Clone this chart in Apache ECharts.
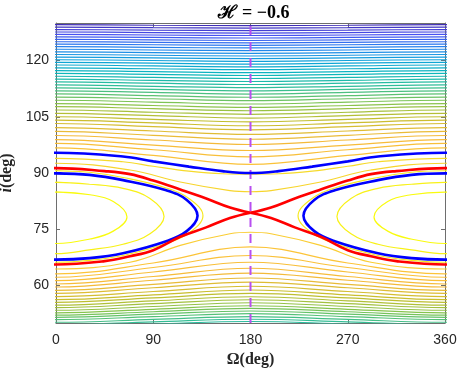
<!DOCTYPE html>
<html>
<head>
<meta charset="utf-8">
<script src="https://cdn.jsdelivr.net/npm/echarts@6/dist/echarts.min.js"></script>
<style>
  html, body { margin: 0; padding: 0; background: #fff; }
  #chart { width: 458px; height: 370px; }
</style>
</head>
<body>
<div id="chart"></div>
<script>
const omegaTicks = [0, 90, 180, 270, 360];
const incTicks = [60, 75, 90, 105, 120];
const hValue = "−0.6";

// open contours above the separatrix, inclination (deg) read at Ω = 0, 90, 180
const upperAt0 = [96.7, 97.9, 98.9, 100.0, 101.1, 102.1, 103.2, 104.1, 105.0, 105.9, 106.8, 107.7, 108.5, 109.4, 110.25, 111.1, 111.9, 112.7, 113.5, 114.3, 115.05, 115.8, 116.55, 117.3, 118.05, 118.8, 119.5, 120.2, 120.9, 121.6, 122.3, 123.0, 123.7, 124.35, 125.0, 125.65, 126.3, 126.95, 127.6, 128.25, 128.9, 129.55];
const upperAt90 = [94.7, 96.2, 97.45, 98.8, 100.05, 101.2, 102.35, 103.35, 104.3, 105.3, 106.2, 107.15, 108.0, 108.9, 109.8, 110.65, 111.5, 112.3, 113.1, 113.95, 114.7, 115.5, 116.3, 117.05, 117.8, 118.55, 119.3, 120.0, 120.7, 121.4, 122.1, 122.8, 123.5, 124.2, 124.85, 125.5, 126.15, 126.8, 127.45, 128.1, 128.75, 129.4];
const upperAt180 = [92.3, 94.3, 96.0, 97.6, 99.0, 100.3, 101.5, 102.6, 103.65, 104.65, 105.65, 106.6, 107.5, 108.4, 109.3, 110.2, 111.05, 111.9, 112.75, 113.6, 114.4, 115.2, 116.0, 116.78, 117.55, 118.32, 119.05, 119.78, 120.5, 121.2, 121.92, 122.64, 123.35, 124.02, 124.68, 125.34, 126.0, 126.66, 127.32, 127.98, 128.64, 129.3];

// open contours below the separatrix
const lowerAt0 = [63.1, 62.2, 61.3, 60.4, 59.6, 58.7, 57.9, 57.05, 56.25, 55.5, 54.75, 54.1, 53.4, 52.7, 52.1, 51.5, 50.9, 50.2, 49.55, 49.0];
const lowerAt90 = [66.0, 64.8, 63.6, 62.4, 61.4, 60.3, 59.4, 58.4, 57.5, 56.7, 55.9, 55.15, 54.4, 53.65, 53.0, 52.35, 51.7, 50.95, 50.3, 49.7];
const lowerAt180 = [70.3, 68.0, 66.2, 64.6, 63.3, 62.0, 60.9, 59.8, 58.8, 57.9, 57.0, 56.2, 55.4, 54.6, 53.9, 53.2, 52.5, 51.7, 51.0, 50.4];

// contours passing close to the saddle (left half, mirrored about 180)
const saddleOmega = [0, 68.5, 115, 161, 180];
const saddleUpper = [92.6, 90.8, 87.6, 85.3, 85.0];
const saddleLower = [64.4, 66.2, 70.7, 73.8, 74.2];
const hugOmega = [0, 62, 90, 123, 154, 180];
const hugInc = [93.9, 93.0, 91.8, 90.5, 89.8, 89.7];

// blue open curve
const blueOmega = [0, 62, 90, 123, 154, 180];
const blueInc = [95.4, 94.4, 93.1, 91.7, 90.5, 90.0];

// separatrix (red), left half
const sepOmega = [0, 45, 68.5, 90, 115, 139, 161, 180];
const sepUpper = [91.3, 90.5, 89.7, 88.0, 85.6, 83.2, 80.8, 79.4];
const sepLower = [65.6, 66.5, 67.8, 69.4, 73.0, 75.5, 78.0, 79.4];

// closed curves round the island at Ω = 0 (and 360): top at Ω=0 -> tip -> bottom at Ω=0
const innerOmega = [0, 31.5, 53, 65.7, 53, 31.5, 0];
const innerInc = [84.9, 84.2, 82.4, 78.3, 74.5, 72.4, 71.2];
const middleOmega = [0, 31, 62, 87, 100, 87, 62, 31, 0];
const middleInc = [87.5, 87.0, 85.9, 83.2, 78.4, 73.8, 71.0, 69.5, 68.5];
const outerOmega = [0, 31, 62, 102, 124, 136, 124, 102, 62, 31, 0];
const outerInc = [90.6, 90.2, 88.8, 86.0, 83.0, 78.6, 74.2, 71.2, 68.0, 66.7, 66.2];
const blueIslandOmega = [0, 31, 62, 102, 121, 131, 121, 102, 62, 31, 0];
const blueIslandInc = [89.9, 89.5, 88.1, 85.4, 82.8, 78.6, 74.5, 71.8, 68.6, 67.3, 66.9];

// parula-like colour ramp
const parulaStops = [
  [0, [62, 38, 168]], [0.1, [70, 80, 240]], [0.2, [40, 128, 238]], [0.3, [15, 160, 220]],
  [0.4, [10, 182, 190]], [0.5, [50, 190, 150]], [0.6, [130, 196, 80]], [0.7, [196, 190, 45]],
  [0.8, [245, 186, 58]], [0.88, [252, 196, 56]], [0.94, [245, 222, 40]], [1, [249, 251, 14]]
];
function parula(t) {
  t = Math.max(0, Math.min(1, t));
  for (let j = 1; j < parulaStops.length; j++) {
    const a = parulaStops[j - 1], b = parulaStops[j];
    if (t <= b[0]) {
      const f = (t - a[0]) / (b[0] - a[0]);
      const c = a[1].map((v, n) => Math.round(v + (b[1][n] - v) * f));
      return "rgb(" + c.join(",") + ")";
    }
  }
  return "rgb(249,251,14)";
}

function openLine(a0, a90, a180) {
  return [[-90, a90], [0, a0], [90, a90], [180, a180], [270, a90], [360, a0], [450, a90]];
}
function acrossSaddle(omegas, incs) {
  const pts = [[-omegas[1], incs[1]]];
  omegas.forEach((w, j) => pts.push([w, incs[j]]));
  for (let j = omegas.length - 2; j >= 0; j--) pts.push([360 - omegas[j], incs[j]]);
  pts.push([360 + omegas[1], incs[1]]);
  return pts;
}
function halfBranch(omegas, incs, right) {
  const pts = [[-omegas[1], incs[1]]].concat(omegas.map((w, j) => [w, incs[j]]));
  return right ? pts.map((p) => [360 - p[0], p[1]]) : pts;
}
function islandLoop(omegas, incs, centre) {
  const pts = omegas.map((w, j) => [centre + w, incs[j]]);
  for (let j = omegas.length - 2; j >= 1; j--) pts.push([centre - omegas[j], incs[j]]);
  pts.push(pts[0], pts[1]);
  return pts;
}
function curve(data, color, width, z) {
  return {
    type: "line", data: data, smooth: 0.4, symbol: "none", silent: true,
    lineStyle: { color: color, width: width }, z: z, clip: true,
  };
}

const series = [];
upperAt0.forEach((v, k) => {
  series.push(curve(openLine(v, upperAt90[k], upperAt180[k]), parula(0.86 - 0.0205 * k), 1.2, 2));
});
lowerAt0.forEach((v, k) => {
  series.push(curve(openLine(v, lowerAt90[k], lowerAt180[k]), parula(0.879 - 0.021 * k), 1.2, 2));
});
series.push(curve(acrossSaddle(saddleOmega, saddleUpper), parula(0.92), 1.2, 2));
series.push(curve(acrossSaddle(saddleOmega, saddleLower), parula(0.9), 1.2, 2));
series.push(curve(acrossSaddle(hugOmega, hugInc), parula(0.93), 1.2, 2));
[0, 360].forEach((c) => {
  series.push(curve(islandLoop(outerOmega, outerInc, c), parula(0.96), 1.2, 2));
  series.push(curve(islandLoop(middleOmega, middleInc, c), parula(0.98), 1.2, 2));
  series.push(curve(islandLoop(innerOmega, innerInc, c), parula(1), 1.2, 2));
});
// dashed line at Ω = 180
series.push({
  type: "line", data: [[180, 50], [180, 130]], symbol: "none", silent: true, z: 3,
  lineStyle: { color: "#b84ef0", width: 2, type: [9, 7] },
});
[0, 360].forEach((c) => {
  series.push(curve(islandLoop(blueIslandOmega, blueIslandInc, c), "#0000ff", 2.6, 4));
});
series.push(curve(acrossSaddle(blueOmega, blueInc), "#0000ff", 2.6, 4));
[false, true].forEach((r) => {
  series.push(curve(halfBranch(sepOmega, sepUpper, r), "#ff0000", 2.6, 5));
  series.push(curve(halfBranch(sepOmega, sepLower, r), "#ff0000", 2.6, 5));
});

const axisLineStyle = { color: "#6e6e6e", width: 1 };
const labelStyle = { color: "#262626", fontSize: 14, fontFamily: "'Liberation Sans', Arial, sans-serif" };
const nameStyle = { color: "#262626", fontSize: 16, fontWeight: "bold", fontFamily: "'Liberation Serif', 'DejaVu Serif', serif" };

const chart = echarts.init(document.getElementById("chart"), null, { renderer: "canvas" });
chart.setOption({
  animation: false,
  backgroundColor: "#ffffff",
  title: {
    text: "ℋ = " + hValue,
    left: 249,
    top: -1,
    textAlign: "center",
    textStyle: { color: "#000", fontSize: 18, fontWeight: "bold", fontFamily: "'Liberation Serif', 'DejaVu Serif', serif" },
  },
  grid: { left: 56, right: 13, top: 23, bottom: 47, containLabel: false, outerBoundsMode: "none" },
  xAxis: [
    {
      type: "value", min: 0, max: 360, interval: 90, position: "bottom",
      name: "Ω(deg)", nameLocation: "middle", nameGap: 25, nameTextStyle: nameStyle,
      axisLine: { show: true, onZero: false, lineStyle: axisLineStyle },
      axisTick: { show: true, inside: true, length: 4, lineStyle: axisLineStyle },
      axisLabel: Object.assign({ margin: 10 }, labelStyle),
      splitLine: { show: false },
    },
    {
      type: "value", min: 0, max: 360, interval: 90, position: "top",
      axisLine: { show: true, onZero: false, lineStyle: axisLineStyle },
      axisTick: { show: true, inside: true, length: 4, lineStyle: axisLineStyle },
      axisLabel: { show: false }, splitLine: { show: false },
    },
  ],
  yAxis: [
    {
      type: "value", min: 50, max: 130, position: "left",
      name: "{it|i}(deg)", nameLocation: "middle", nameGap: 39, nameRotate: 90,
      nameTextStyle: Object.assign({ rich: { it: Object.assign({}, nameStyle, { fontStyle: "italic" }) } }, nameStyle),
      axisLine: { show: true, onZero: false, lineStyle: axisLineStyle },
      axisTick: { show: true, inside: true, length: 4, customValues: incTicks, lineStyle: axisLineStyle },
      axisLabel: Object.assign({ margin: 7, customValues: incTicks }, labelStyle),
      splitLine: { show: false },
    },
    {
      type: "value", min: 50, max: 130, position: "right",
      axisLine: { show: true, onZero: false, lineStyle: axisLineStyle },
      axisTick: { show: true, inside: true, length: 4, customValues: incTicks, lineStyle: axisLineStyle },
      axisLabel: { show: false }, splitLine: { show: false },
    },
  ],
  series: series,
});
</script>
</body>
</html>
